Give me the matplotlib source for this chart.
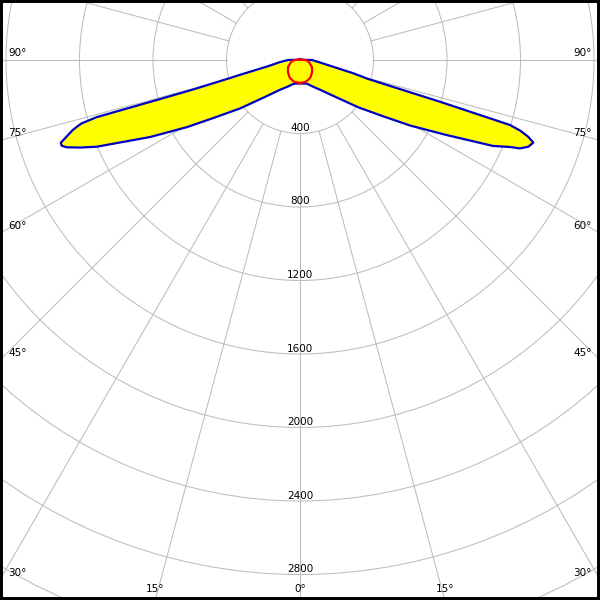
import numpy as np
import matplotlib.pyplot as plt
from matplotlib.patches import Circle

# luminous intensity, gamma in degrees (0 = straight down), values in cd
# C0 plane (right half of the blue curve)
gamma_c0 = [0, 10, 16, 25, 34, 43, 51, 56, 59.3, 62.8, 66, 67.5, 68.1, 69.2, 70.5,
            71.4, 72.2, 72.8, 73.4, 73.8, 74.5, 76, 79, 84, 90, 92, 180]
cd_c0 = [128, 130, 134, 158, 195, 268, 410, 550, 700, 890, 1150, 1237, 1290, 1329, 1347,
         1311, 1260, 1196, 795, 560, 380, 300, 170, 100, 65, 20, 5]

# C180 plane (left half of the blue curve)
gamma_c180 = [0, 10, 16, 25, 34, 43, 51, 56, 59.3, 62.8, 66.9, 68.3, 69.5, 70.2, 70.9,
              71.6, 72.9, 73.8, 74.3, 74.4, 74.6, 75.5, 76, 79, 84, 90, 92, 180]
cd_c180 = [128, 130, 136, 160, 196, 271, 418, 560, 715, 917, 1203, 1289, 1356, 1378, 1378,
           1347, 1293, 1240, 1150, 808, 600, 400, 348, 177, 110, 65, 20, 5]

# C90 / C270 plane (red curve, same on both sides)
gamma_c90 = [0, 15, 30, 45, 60, 75, 85, 90, 180]
cd_c90 = [125, 123, 112, 93, 75, 52, 38, 30, 2]

ring_values = [400, 800, 1200, 1600, 2000, 2400, 2800, 3200]
ring_labels = ['400', '800', '1200', '1600', '2000', '2400', '2800']
spoke_angles = list(range(0, 181, 15))
side_labels = [90, 75, 60, 45, 30]
bottom_labels = [0, 15]


def to_xy(gamma, cd, side):
    g = np.radians(gamma)
    cd = np.asarray(cd, dtype=float)
    return side * cd * np.sin(g), -cd * np.cos(g)


# 73.5 px per 400 cd, pole at (300, 60) px in a 600 x 600 picture
k = 400 / 73.5
x_half = 300 * k
y_top = 60 * k
y_bot = -540 * k

fig = plt.figure(figsize=(6, 6), dpi=100)
ax = fig.add_axes([0, 0, 1, 1])
ax.set_xlim(-x_half, x_half)
ax.set_ylim(y_bot, y_top)
ax.set_xticks([])
ax.set_yticks([])
for sp in ax.spines.values():
    sp.set_color('black')
    sp.set_linewidth(4.3)

grid_col = '#bdbdbd'
for r in ring_values:
    ax.add_patch(Circle((0, 0), r, fill=False, ec=grid_col, lw=0.75, zorder=1))
for a in spoke_angles:
    for s in (-1, 1):
        xs, ys = to_xy([a, a], [400, 4000], s)
        ax.plot(xs, ys, color=grid_col, lw=0.75, zorder=1)

fs = 7.5
for r, lab in zip(ring_values, ring_labels):
    ax.text(0, -r + 5.5 * k, lab, ha='center', va='center', fontsize=fs, zorder=5)

for a in side_labels:
    hit = 0.0 if a == 90 else -x_half / np.tan(np.radians(a))
    ax.text(-x_half + 8 * k, hit + 7 * k, f'{a}°', ha='left', va='center', fontsize=fs, zorder=5)
    ax.text(x_half - 8 * k, hit + 7 * k, f'{a}°', ha='right', va='center', fontsize=fs, zorder=5)

for a in bottom_labels:
    hit = -y_bot * np.tan(np.radians(a))
    for s in ((-1, 1) if a else (1,)):
        ax.text(s * hit, y_bot + 11 * k, f'{a}°', ha='center', va='center', fontsize=fs, zorder=5)

# blue curve: C180 from 180 down to 0, then C0 from 0 up to 180
xl, yl = to_xy(gamma_c180, cd_c180, -1)
xr, yr = to_xy(gamma_c0, cd_c0, 1)
bx = np.concatenate([xl[::-1], xr])
by = np.concatenate([yl[::-1], yr])
ax.fill(bx, by, color='#ffff00', zorder=2)
ax.plot(bx, by, color='#0000c8', lw=1.6, zorder=3)

xl, yl = to_xy(gamma_c90, cd_c90, -1)
xr, yr = to_xy(gamma_c90, cd_c90, 1)
rx = np.concatenate([xl[::-1], xr])
ry = np.concatenate([yl[::-1], yr])
ax.plot(rx, ry, color='#ff0000', lw=1.6, zorder=4)

fig.savefig('out.png', dpi=100)
